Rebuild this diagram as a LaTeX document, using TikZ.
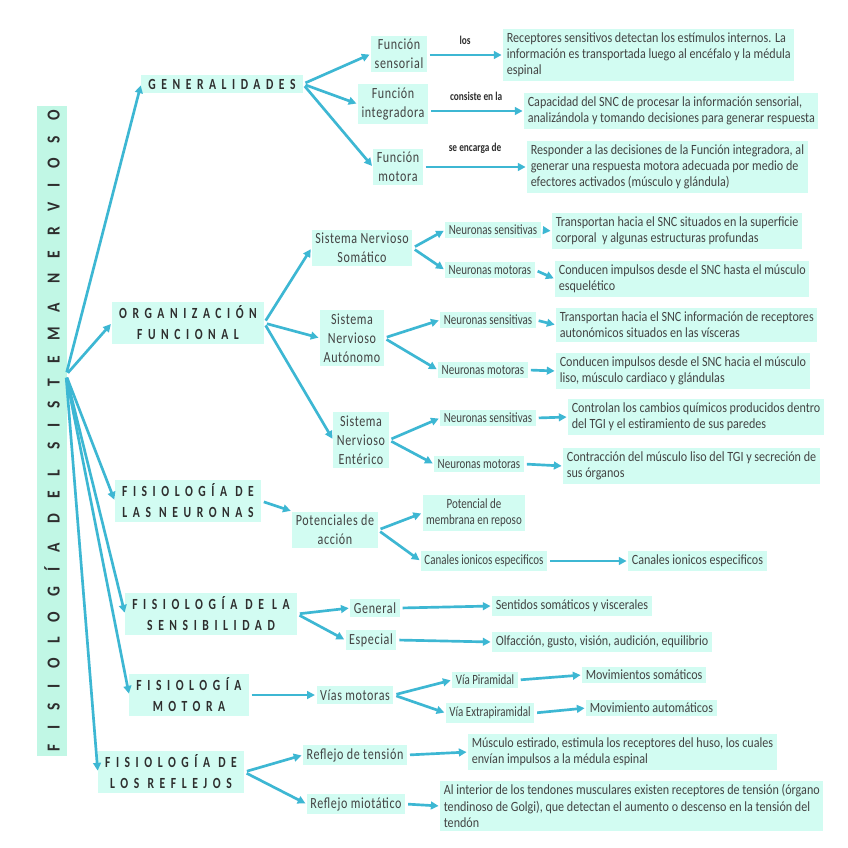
\documentclass[tikz,border=0pt]{standalone}
\usepackage{fontspec}
\setmainfont{Carlito}[FakeStretch=0.78]
\newfontfamily\descfont{Carlito}[FakeStretch=0.86]
\newfontfamily\headfont{Carlito}[FakeStretch=0.75, LetterSpace=36]
\newfontfamily\titlefont{Carlito}[FakeStretch=0.85, LetterSpace=82]
\newfontfamily\midfont{Carlito}[FakeStretch=0.78, LetterSpace=4]
\usepackage{tikz}
\usetikzlibrary{arrows.meta, positioning}
\definecolor{MintFill}{HTML}{D2FCF2}
\definecolor{MintTitle}{HTML}{C1F7E5}
\definecolor{ArrowCyan}{HTML}{3DB7D3}
\definecolor{InkGray}{HTML}{2E2E2E}
\tikzset{
  titlebox/.style={rectangle, fill=MintTitle, text=InkGray, rotate=90, minimum width=15cm, minimum height=0.75cm, font=\titlefont\bfseries\fontsize{13}{15}\selectfont},
  headbox/.style={rectangle, fill=MintFill, text=InkGray, inner xsep=5pt, inner ysep=3pt, align=center, font=\headfont\bfseries\fontsize{11}{15}\selectfont},
  conceptbox/.style={rectangle, fill=MintFill, text=InkGray!90, inner sep=2.5pt, align=center, font=\midfont\fontsize{11}{13.5}\selectfont},
  itembox/.style={rectangle, fill=MintFill, text=InkGray!90, inner sep=2.5pt, align=center, font=\fontsize{10}{11.5}\selectfont},
  descbox/.style={rectangle, fill=MintFill, text=InkGray!90, inner sep=2.5pt, align=left, anchor=west, font=\descfont\fontsize{10}{11.5}\selectfont},
  linklabel/.style={text=InkGray, font=\bfseries\fontsize{8.5}{10}\selectfont},
  arrow/.style={-{Triangle[length=5.5pt, width=5.5pt]}, line width=1.9pt, ArrowCyan, shorten <=2pt, shorten >=1pt}
}
\begin{document}
\begin{tikzpicture}[x=0.025cm, y=-0.025cm]
  \fill[white] (0,0) rectangle (848,848);
  \useasboundingbox (0,0) rectangle (848,848);

  % titulo vertical
  \node[titlebox] (title) at (52,431) {FISIOLOGÍA\hspace{14pt}DEL\hspace{14pt}SISTEMA\hspace{14pt}NERVIOSO};
  \coordinate (hub) at (66,375);

  % temas principales
  \node[headbox] (gen) at (222,84) {GENERALIDADES};
  \node[headbox] (org) at (188,323) {ORGANIZACIÓN\\FUNCIONAL};
  \node[headbox] (neu) at (188,501) {FISIOLOGÍA DE\\LAS NEURONAS};
  \node[headbox] (sen) at (211,614) {FISIOLOGÍA DE LA\\SENSIBILIDAD};
  \node[headbox] (mot) at (189,695) {FISIOLOGÍA\\MOTORA};
  \node[headbox] (ref) at (171,772) {FISIOLOGÍA DE\\LOS REFLEJOS};

  \foreach \t in {gen,org,neu,sen,mot,ref}
    \draw[arrow] (hub) -- (\t.west);

  % generalidades
  \node[conceptbox] (fsen) at (399,54) {Función\\sensorial};
  \node[conceptbox] (fint) at (393,104) {Función\\integradora};
  \node[conceptbox] (fmot) at (398,167) {Función\\motora};
  \node[descbox] (d1) at (503,55) {Receptores sensitivos detectan los estímulos internos. La\\información es transportada luego al encéfalo y la médula\\espinal};
  \node[descbox] (d2) at (524,111) {Capacidad del SNC de procesar la información sensorial,\\analizándola y tomando decisiones para generar respuesta};
  \node[descbox] (d3) at (527,167) {Responder a las decisiones de la Función integradora, al\\generar una respuesta motora adecuada por medio de\\efectores activados (músculo y glándula)};

  \draw[arrow] (gen.east) -- (fsen.west);
  \draw[arrow] (gen.east) -- (fint.west);
  \draw[arrow] (gen.east) -- (fmot.west);
  \draw[arrow] (fsen.east |- d1.west) -- node[linklabel, above=3pt] {los} (d1.west);
  \draw[arrow] (fint.east |- d2.west) -- node[linklabel, above=3pt] {consiste en la} (d2.west);
  \draw[arrow] (fmot.east |- d3.west) -- node[linklabel, above=5pt] {se encarga de} (d3.west);

  % organizacion funcional
  \node[conceptbox] (sns) at (362,248) {Sistema Nervioso\\Somático};
  \node[conceptbox] (sna) at (352,338) {Sistema\\Nervioso\\Autónomo};
  \node[conceptbox] (sne) at (361,440) {Sistema\\Nervioso\\Entérico};
  \draw[arrow] (org.east) -- (sns.west);
  \draw[arrow] (org.east) -- (sna.west);
  \draw[arrow] (org.east) -- (sne.west);

  \node[itembox] (sns1) at (493,230) {Neuronas sensitivas};
  \node[itembox] (sns2) at (490,270) {Neuronas motoras};
  \node[itembox] (sna1) at (488,320) {Neuronas sensitivas};
  \node[itembox] (sna2) at (483,370) {Neuronas motoras};
  \node[itembox] (sne1) at (488,418) {Neuronas sensitivas};
  \node[itembox] (sne2) at (479,464) {Neuronas motoras};
  \draw[arrow] (sns.east) -- (sns1.west);
  \draw[arrow] (sns.east) -- (sns2.west);
  \draw[arrow] (sna.east) -- (sna1.west);
  \draw[arrow] (sna.east) -- (sna2.west);
  \draw[arrow] (sne.east) -- (sne1.west);
  \draw[arrow] (sne.east) -- (sne2.west);

  \node[descbox] (d4) at (552,231) {Transportan hacia el SNC situados en la superficie\\corporal \ y algunas estructuras profundas};
  \node[descbox] (d5) at (555,279) {Conducen impulsos desde el SNC hasta el músculo\\esquelético};
  \node[descbox] (d6) at (556,325) {Transportan hacia el SNC información de receptores\\autonómicos situados en las vísceras};
  \node[descbox] (d7) at (556,371) {Conducen impulsos desde el SNC hacia el músculo\\liso, músculo cardiaco y glándulas};
  \node[descbox] (d8) at (568,417) {Controlan los cambios químicos producidos dentro\\del TGI y el estiramiento de sus paredes};
  \node[descbox] (d9) at (563,466) {Contracción del músculo liso del TGI y secreción de\\sus órganos};
  \draw[arrow] (sns1.east) -- (d4.west);
  \draw[arrow] (sns2.east) -- (d5.west);
  \draw[arrow] (sna1.east) -- (d6.west);
  \draw[arrow] (sna2.east) -- (d7.west);
  \draw[arrow] (sne1.east) -- (d8.west);
  \draw[arrow] (sne2.east) -- (d9.west);

  % neuronas
  \node[conceptbox] (pot) at (335,530) {Potenciales de\\acción};
  \node[itembox] (pmr) at (474,513) {Potencial de\\membrana en reposo};
  \node[itembox] (can1) at (484,561) {Canales ionicos especificos};
  \node[descbox] (can2) at (628,561) {Canales ionicos especificos};
  \draw[arrow] (neu.east) -- (pot.north west);
  \draw[arrow] (pot.east) -- (pmr.west);
  \draw[arrow] (pot.east) -- (can1.west);
  \draw[arrow] (can1.east) -- (can2.west);

  % sensibilidad
  \node[conceptbox] (gral) at (375,608) {General};
  \node[conceptbox] (esp) at (371,640) {Especial};
  \node[descbox] (som) at (492,606) {Sentidos somáticos y viscerales};
  \node[descbox] (olf) at (492,642) {Olfacción, gusto, visión, audición, equilibrio};
  \draw[arrow] (sen.east) -- (gral.west);
  \draw[arrow] (sen.east) -- (esp.west);
  \draw[arrow] (gral.east) -- (som.west);
  \draw[arrow] (esp.east) -- (olf.west);

  % motora
  \node[conceptbox] (vias) at (355,695) {Vías motoras};
  \node[itembox] (piram) at (485,680) {Vía Piramidal};
  \node[itembox] (extra) at (490,713) {Vía Extrapiramidal};
  \node[descbox] (movs) at (582,675) {Movimientos somáticos};
  \node[descbox] (mova) at (586,708) {Movimiento automáticos};
  \draw[arrow] (mot.east) -- (vias.west);
  \draw[arrow] (vias.east) -- (piram.west);
  \draw[arrow] (vias.east) -- (extra.west);
  \draw[arrow] (piram.east) -- (movs.west);
  \draw[arrow] (extra.east) -- (mova.west);

  % reflejos
  \node[conceptbox] (rten) at (355,755) {Reflejo de tensión};
  \node[conceptbox] (rmio) at (356,804) {Reflejo miotático};
  \node[descbox] (d10) at (468,752) {Músculo estirado, estimula los receptores del huso, los cuales\\envían impulsos a la médula espinal};
  \node[descbox] (d11) at (440,806) {Al interior de los tendones musculares existen receptores de tensión (órgano\\tendinoso de Golgi), que detectan el aumento o descenso en la tensión del\\tendón};
  \draw[arrow] (ref.east) -- (rten.west);
  \draw[arrow] (ref.east) -- (rmio.west);
  \draw[arrow] (rten.east) -- (d10.west);
  \draw[arrow] (rmio.east) -- (d11.west);
\end{tikzpicture}
\end{document}
